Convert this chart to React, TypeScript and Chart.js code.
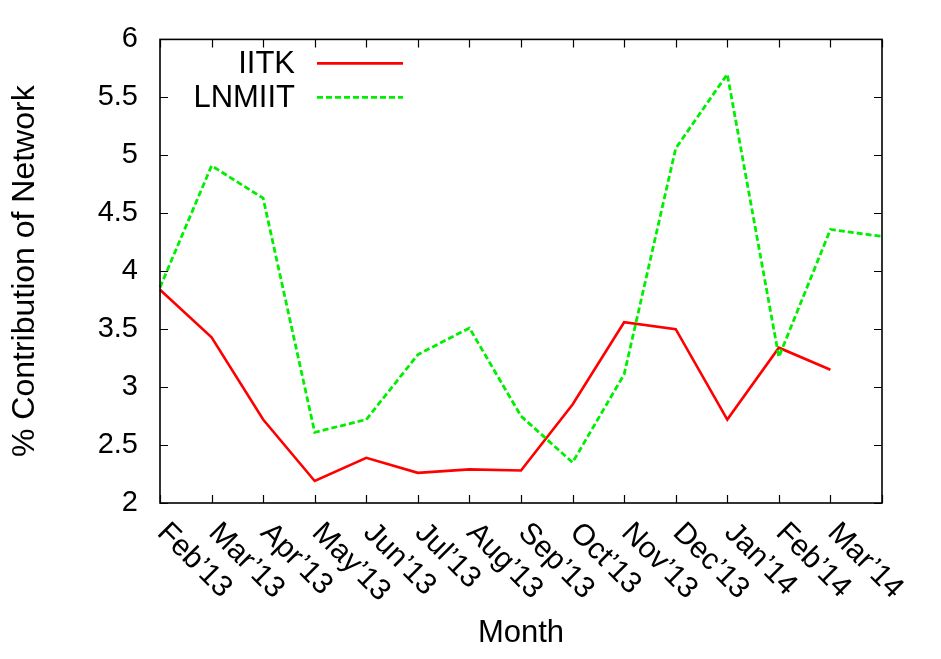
import React, { useEffect, useRef } from 'react';
import { Chart, registerables } from 'chart.js';
Chart.register(...registerables);

const months = ['Feb’13', 'Mar’13', 'Apr’13', 'May’13', 'Jun’13', 'Jul’13', 'Aug’13', 'Sep’13', 'Oct’13', 'Nov’13', 'Dec’13', 'Jan’14', 'Feb’14', 'Mar’14'];
const xSlots = [...months, ''];
const iitk = [3.84, 3.43, 2.72, 2.19, 2.39, 2.26, 2.29, 2.28, 2.85, 3.56, 3.5, 2.72, 3.34, 3.15];
const lnmiit = [3.86, 4.91, 4.63, 2.61, 2.72, 3.28, 3.51, 2.75, 2.35, 3.11, 5.06, 5.7, 3.26, 4.36, 4.3];
const yTicks = [2, 2.5, 3, 3.5, 4, 4.5, 5, 5.5, 6];
const seriesNames = ['IITK', 'LNMIIT'];
const xTitle = 'Month';
const yTitle = '% Contribution of Network';

const FONT = '"Liberation Sans", Arial, sans-serif';

const framePlugin = {
  id: 'gnuframe',
  afterDraw(chart: any) {
    const { ctx, chartArea: a, scales } = chart;
    const x = scales.x;
    const y = scales.y;
    ctx.save();
    ctx.strokeStyle = '#000';
    ctx.lineWidth = 1.6;
    ctx.strokeRect(a.left, a.top, a.right - a.left, a.bottom - a.top);
    ctx.lineWidth = 1.2;
    const tl = 8;
    ctx.beginPath();
    x.ticks.forEach((_t: any, i: number) => {
      const px = Math.round(x.getPixelForTick(i)) + 0.5;
      ctx.moveTo(px, a.bottom);
      ctx.lineTo(px, a.bottom - tl);
      ctx.moveTo(px, a.top);
      ctx.lineTo(px, a.top + tl);
    });
    y.ticks.forEach((t: any) => {
      const py = Math.round(y.getPixelForValue(t.value)) + 0.5;
      ctx.moveTo(a.left, py);
      ctx.lineTo(a.left + tl, py);
      ctx.moveTo(a.right, py);
      ctx.lineTo(a.right - tl, py);
    });
    ctx.stroke();

    // rotated x labels
    ctx.fillStyle = '#000';
    ctx.font = `30px ${FONT}`;
    ctx.textAlign = 'left';
    ctx.textBaseline = 'alphabetic';
    months.forEach((m, i) => {
      const px = x.getPixelForValue(i);
      ctx.save();
      ctx.translate(px - 4, a.bottom + 31);
      ctx.rotate(Math.PI / 4);
      ctx.fillText(m, 0, 0);
      ctx.restore();
    });

    // legend
    ctx.font = `31px ${FONT}`;
    ctx.textAlign = 'right';
    ctx.textBaseline = 'middle';
    chart.data.datasets.forEach((ds: any, i: number) => {
      const ly = a.top + 24 + i * 34;
      ctx.fillStyle = '#000';
      ctx.fillText(ds.label, a.left + 135, ly + 1);
      ctx.save();
      ctx.strokeStyle = ds.borderColor;
      ctx.lineWidth = ds.borderWidth;
      ctx.setLineDash(ds.borderDash || []);
      ctx.beginPath();
      ctx.moveTo(a.left + 157, ly);
      ctx.lineTo(a.left + 243, ly);
      ctx.stroke();
      ctx.restore();
    });
    ctx.restore();
  },
};

export default function App() {
  const ref = useRef<HTMLCanvasElement>(null);
  useEffect(() => {
    Chart.defaults.font.family = FONT;
    const chart = new Chart(ref.current!, {
      type: 'line',
      data: {
        labels: xSlots,
        datasets: [
          {
            label: seriesNames[0],
            data: iitk,
            borderColor: '#ff0000',
            backgroundColor: '#ff0000',
            borderWidth: 2.6,
            pointRadius: 0,
            tension: 0,
            fill: false,
            order: 2,
          },
          {
            label: seriesNames[1],
            data: lnmiit,
            borderColor: '#00ee00',
            backgroundColor: '#00ee00',
            borderWidth: 2.8,
            borderDash: [6, 3],
            pointRadius: 0,
            tension: 0,
            fill: false,
            order: 1,
          },
        ],
      },
      options: {
        animation: false,
        responsive: false,
        devicePixelRatio: 1,
        layout: { padding: { left: 0, top: 39, right: 59, bottom: 0 } },
        plugins: { legend: { display: false }, tooltip: { enabled: false } },
        scales: {
          x: {
            type: 'category',
            offset: false,
            grid: { display: false, drawTicks: false },
            border: { display: false },
            ticks: { display: false, autoSkip: false },
            title: {
              display: true,
              text: xTitle,
              color: '#000',
              font: { size: 31, family: FONT },
              padding: { top: 0, bottom: 7 },
            },
            afterFit: (s: any) => {
              s.height = 156;
            },
          },
          y: {
            min: 2,
            max: 6,
            grid: { display: false, drawTicks: false },
            border: { display: false },
            afterBuildTicks: (s: any) => {
              s.ticks = yTicks.map((v) => ({ value: v }));
            },
            ticks: {
              color: '#000',
              padding: 22,
              font: { size: 29, family: FONT },
              callback: (v: any) => String(v),
            },
            title: {
              display: true,
              text: yTitle,
              color: '#000',
              font: { size: 32, family: FONT },
              padding: { top: 6, bottom: 0 },
            },
            afterFit: (s: any) => {
              s.width = 160;
            },
          },
        },
      },
      plugins: [framePlugin],
    });
    return () => chart.destroy();
  }, []);
  return (
    <div style={{ position: 'fixed', left: 0, top: 0, width: 941, height: 659, background: '#fff' }}>
      <canvas ref={ref} width={941} height={659} style={{ display: 'block' }} />
    </div>
  );
}
